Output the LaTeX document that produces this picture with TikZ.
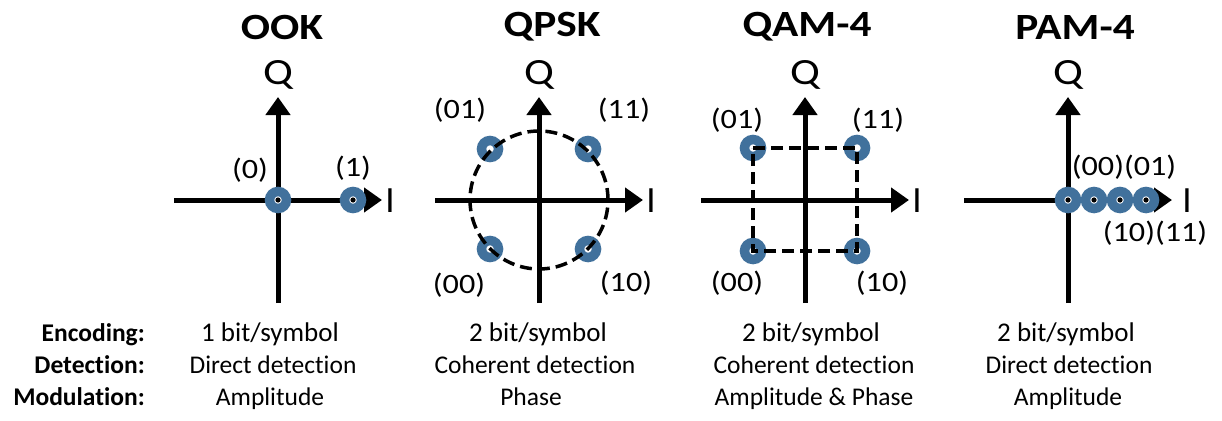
\documentclass[tikz,border=0pt]{standalone}
\usepackage{fontspec}
\usepackage{graphicx}
\setmainfont{Carlito}[Ligatures={NoCommon}]
\usetikzlibrary{arrows.meta}
\definecolor{ptblue}{RGB}{65,113,156}
% widen a piece of text horizontally
\newcommand{\wide}[2][1.2]{\scalebox{#1}[1]{#2}}
\begin{document}
\begin{tikzpicture}[x=1pt,y=-1pt,
  axis/.style={line width=5pt,-{Triangle[length=18pt,width=24pt]}},
  axes/.pic={
    \coordinate (-o) at (0,0);
    \coordinate (-w) at (-104,0);
    \coordinate (-e) at (104,0);
    \coordinate (-s) at (0,103);
    \coordinate (-n) at (0,-103);
    \draw[axis] (-w) -- (-e);
    \draw[axis] (-s) -- (-n);
  },
  sym/.style={circle, draw=ptblue, line width=9.5pt, fill=white,
    minimum size=17pt, inner sep=0pt},
  symd/.style={sym, path picture={\fill[black] (path picture bounding box.center) circle (2.6pt);}},
  guide/.style={line width=3.5pt, dash pattern=on 12pt off 6pt},
  title/.style={font=\fontsize{37}{40}\bfseries\selectfont},
  axlabel/.style={font=\fontsize{37}{40}\selectfont},
  bits/.style={font=\fontsize{28}{30}\selectfont, inner sep=0pt},
  rowhead/.style={font=\fontsize{25.5}{28}\bfseries\selectfont, anchor=base east, inner sep=0pt},
  rowval/.style={font=\fontsize{25.5}{28}\selectfont, anchor=base, inner sep=0pt},
  rowvalbig/.style={font=\fontsize{27}{28}\selectfont, anchor=base, inner sep=0pt}
]
\useasboundingbox (0,0) rectangle (1222,420);

% ---------- OOK ----------
\node[title] (ook-title) at (282,27) {\wide[1.17]{OOK}};
\pic (ook) at (278,200) {axes};
\node[axlabel] (ook-q) at (278,75) {\wide{Q}};
\node[axlabel] (ook-i) at (390,201) {I};
\node[symd] (ook-0) at (ook-o) {};
\node[symd] (ook-1) at (353,200) {};
\node[bits] (ook-l0) at (250,170) {\wide[1.15]{(0)}};
\node[bits] (ook-l1) at (353,168) {\wide[1.15]{(1)}};

% ---------- QPSK ----------
\node[title] (qpsk-title) at (552,27) {\wide[1.17]{QPSK}};
\pic (qpsk) at (539,200) {axes};
\node[axlabel] (qpsk-q) at (539,75) {\wide{Q}};
\node[axlabel] (qpsk-i) at (651,201) {I};
\node[sym] (qpsk-01) at (490,149) {};
\node[sym] (qpsk-11) at (588,149) {};
\node[sym] (qpsk-00) at (490,249) {};
\node[sym] (qpsk-10) at (588,249) {};
\draw[guide] (qpsk-o) circle (69pt);
\node[bits] (qpsk-l01) at (460,110) {\wide[1.15]{(01)}};
\node[bits] (qpsk-l11) at (624,110) {\wide[1.15]{(11)}};
\node[bits] (qpsk-l00) at (459,285) {\wide[1.15]{(00)}};
\node[bits] (qpsk-l10) at (626,283) {\wide[1.15]{(10)}};

% ---------- QAM-4 ----------
\node[title] (qam-title) at (807,27) {\wide[1.17]{QAM-4}};
\pic (qam) at (805,200) {axes};
\node[axlabel] (qam-q) at (805,75) {\wide{Q}};
\node[axlabel] (qam-i) at (917,201) {I};
\node[sym] (qam-01) at (753,148) {};
\node[sym] (qam-11) at (857,148) {};
\node[sym] (qam-00) at (753,251) {};
\node[sym] (qam-10) at (857,251) {};
\draw[guide] (qam-01.center) -- (qam-11.center) -- (qam-10.center)
  -- (qam-00.center) -- cycle;
\node[bits] (qam-l01) at (737,120) {\wide[1.15]{(01)}};
\node[bits] (qam-l11) at (878,120) {\wide[1.15]{(11)}};
\node[bits] (qam-l00) at (737,283) {\wide[1.15]{(00)}};
\node[bits] (qam-l10) at (882,283) {\wide[1.15]{(10)}};

% ---------- PAM-4 ----------
\node[title] (pam-title) at (1075,27) {\wide[1.17]{PAM-4}};
\pic (pam) at (1068,200) {axes};
\node[axlabel] (pam-q) at (1068,75) {\wide{Q}};
\node[axlabel] (pam-i) at (1187,201) {I};
\node[symd] (pam-00) at (pam-o) {};
\node[symd] (pam-01) at (1094,200) {};
\node[symd] (pam-10) at (1120,200) {};
\node[symd] (pam-11) at (1146,200) {};
\node[bits] (pam-lup) at (1124,167) {\wide[1.15]{(00)(01)}};
\node[bits] (pam-ldn) at (1155,233) {\wide[1.15]{(10)(11)}};

% ---------- table ----------
\node[rowhead] (h-enc) at (145,341) {Encoding:};
\node[rowhead] (h-det) at (145,373) {Detection:};
\node[rowhead] (h-mod) at (145,405) {Modulation:};

\node[rowvalbig] (ook-enc) at (270,341) {1 bit/symbol};
\node[rowval] (ook-det) at (273,373) {Direct detection};
\node[rowval] (ook-mod) at (270,405) {Amplitude};

\node[rowvalbig] (qpsk-enc) at (538,341) {2 bit/symbol};
\node[rowval] (qpsk-det) at (535,373) {Coherent detection};
\node[rowval] (qpsk-mod) at (531,405) {Phase};

\node[rowvalbig] (qam-enc) at (811,341) {2 bit/symbol};
\node[rowval] (qam-det) at (814,373) {Coherent detection};
\node[rowval] (qam-mod) at (814,405) {Amplitude \& Phase};

\node[rowvalbig] (pam-enc) at (1066,341) {2 bit/symbol};
\node[rowval] (pam-det) at (1069,373) {Direct detection};
\node[rowval] (pam-mod) at (1068,405) {Amplitude};
\end{tikzpicture}
\end{document}
